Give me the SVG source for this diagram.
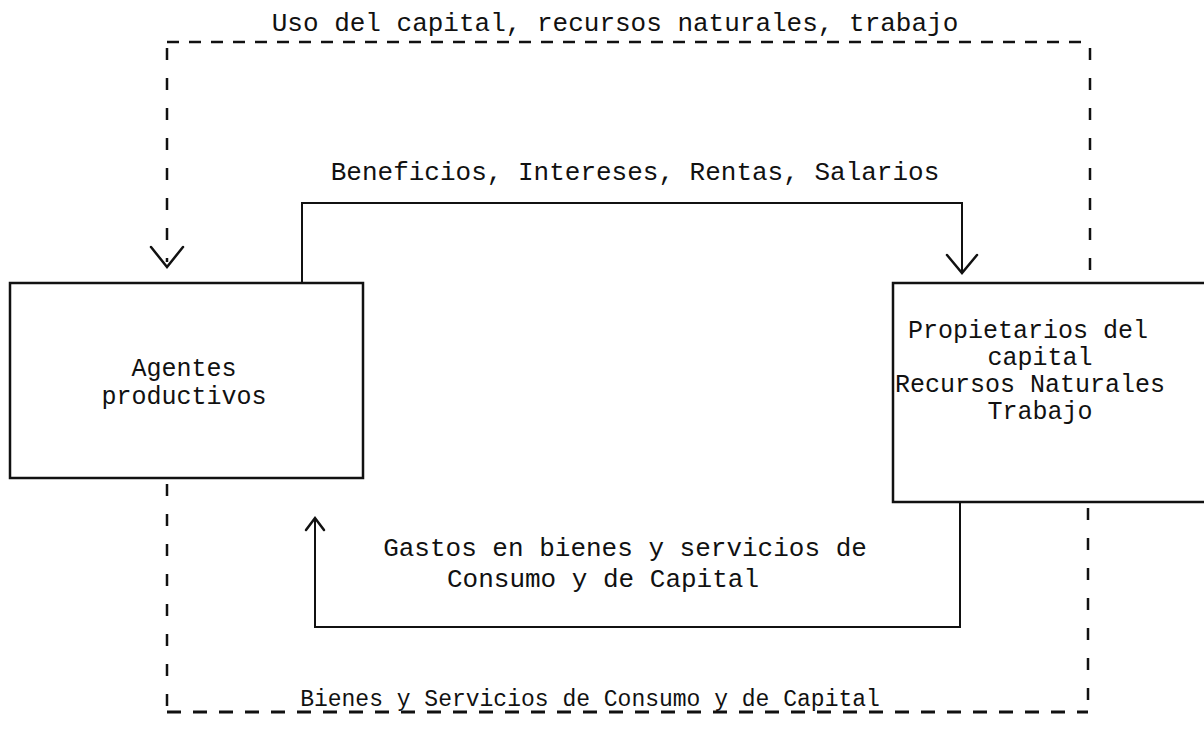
<svg xmlns="http://www.w3.org/2000/svg" width="1204" height="739" viewBox="0 0 1204 739">
<style>
text{font-family:"Liberation Mono","DejaVu Sans Mono",monospace;font-size:26px;fill:#111;}
.lbl{font-size:25px;}
.box{fill:none;stroke:#111;stroke-width:2.5;}
.solid{fill:none;stroke:#111;stroke-width:2;}
.dash{fill:none;stroke:#111;stroke-width:2.5;stroke-dasharray:12 10;}
.vdash{fill:none;stroke:#111;stroke-width:2.5;stroke-dasharray:12 18;}
.head{fill:none;stroke:#111;stroke-width:2.5;stroke-linecap:round;stroke-linejoin:miter;}
</style>
<rect width="1204" height="739" fill="#fff"/>
<g id="connectors">
  <g id="top-flow">
    <path class="dash" d="M167,42 H1090"/>
    <path class="vdash" d="M167,48 V262"/>
    <path class="vdash" d="M1090,48 V283"/>
    <path class="head" d="M151,247 L167,267 L183,247"/>
    <text x="615" y="31" text-anchor="middle">Uso del capital, recursos naturales, trabajo</text>
  </g>
  <g id="income-flow">
    <path class="solid" d="M302,283 V203 H962 V273"/>
    <path class="head" d="M947,255 L962,273 L977,255"/>
    <text x="635" y="180" text-anchor="middle">Beneficios, Intereses, Rentas, Salarios</text>
  </g>
  <g id="spending-flow">
    <path class="solid" d="M960,502 V627 H315 V519"/>
    <path class="head" d="M306,530 L315,518 L324,530"/>
    <text x="625" y="556" text-anchor="middle">Gastos en bienes y servicios de</text>
    <text x="603" y="587" text-anchor="middle">Consumo y de Capital</text>
  </g>
  <g id="goods-flow">
    <path class="vdash" d="M167,484 V712"/>
    <path class="vdash" d="M1088,508 V712"/>
    <path class="dash" d="M167,712 H1088" style="stroke-dasharray:14 12;stroke-width:3"/>
    <text x="590" y="706" text-anchor="middle" style="font-size:23px">Bienes y Servicios de Consumo y de Capital</text>
  </g>
</g>
<g id="node-agentes">
  <rect class="box" x="10" y="283" width="353" height="195"/>
  <text class="lbl" x="184" y="376" text-anchor="middle">Agentes</text>
  <text class="lbl" x="184" y="404" text-anchor="middle">productivos</text>
</g>
<g id="node-propietarios">
  <rect class="box" x="893" y="283" width="320" height="219"/>
  <text class="lbl" x="1028" y="338" text-anchor="middle">Propietarios del</text>
  <text class="lbl" x="1040" y="365" text-anchor="middle">capital</text>
  <text class="lbl" x="1030" y="392" text-anchor="middle">Recursos Naturales</text>
  <text class="lbl" x="1040" y="419" text-anchor="middle">Trabajo</text>
</g>
</svg>
